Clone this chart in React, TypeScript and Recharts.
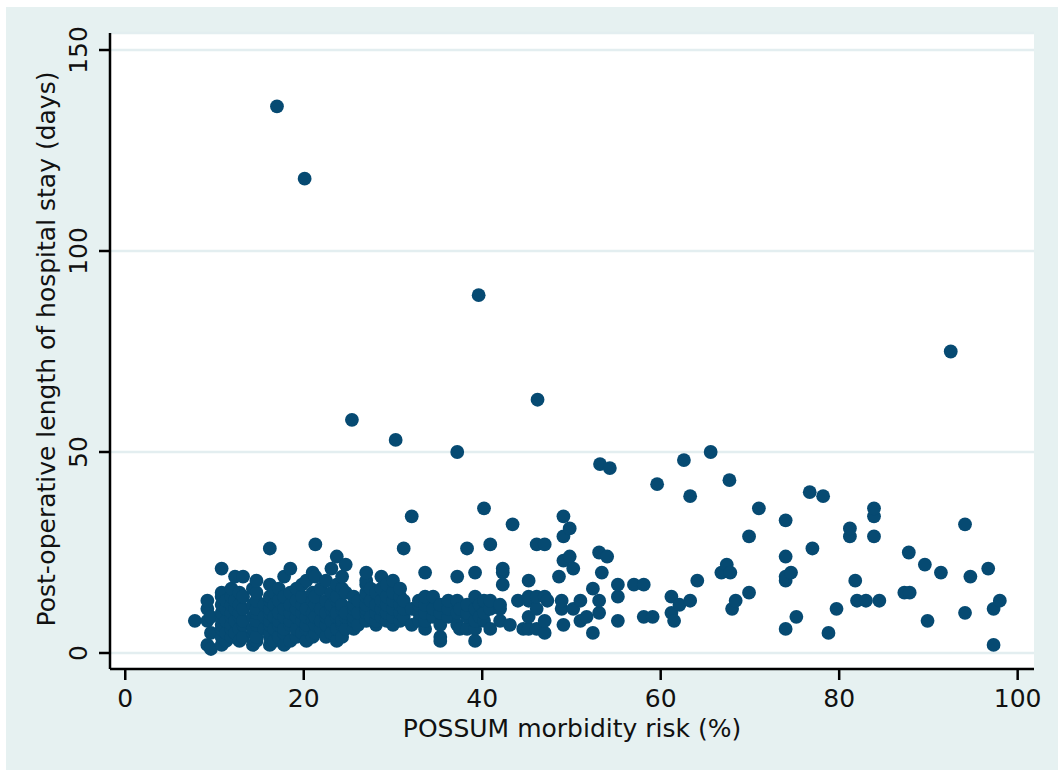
import { ScatterChart, Scatter, XAxis, YAxis, CartesianGrid } from 'recharts';

// Post-operative stay (days) against POSSUM morbidity risk (%), grouped by risk column
const lowRiskColumns: [number, number[]][] = [
    [7.8, [8]],
    [9.2, [2, 8, 11, 13]],
    [9.6, [1, 5, 9]],
    [10.8, [2, 4, 6, 7, 9, 10, 12, 14, 15, 21]],
    [11.3, [3, 5, 8, 11, 13]],
    [11.9, [4, 6, 7, 9, 10, 12, 14, 16]],
    [12.3, [5, 8, 11, 13, 19]],
    [12.8, [3, 6, 9, 10, 12, 15]],
    [13.2, [4, 7, 8, 11, 14, 19]],
    [14.3, [2, 5, 6, 9, 12, 16]],
    [14.7, [3, 4, 7, 8, 10, 11, 13, 15, 18]],
    [15.6, [6, 9, 12]],
    [16.2, [2, 4, 5, 7, 8, 10, 11, 13, 14, 17, 26]],
    [16.7, [3, 6, 9, 12, 15]],
    [17.2, [4, 7, 8, 10, 13, 16]],
    [17.8, [2, 5, 6, 9, 11, 14, 19]],
    [18.5, [3, 7, 8, 10, 12, 15, 21]],
    [19.2, [4, 6, 9, 11, 13, 16]],
    [19.8, [5, 8, 10, 12, 14, 17]],
];

const midLowRiskColumns: [number, number[]][] = [
    [20.3, [3, 6, 7, 9, 11, 18]],
    [21.0, [4, 8, 10, 13, 15, 20]],
    [21.3, [5, 7, 9, 12, 14, 19, 27]],
    [21.9, [6, 8, 11, 16]],
    [22.5, [4, 7, 9, 10, 13, 18]],
    [23.1, [5, 8, 11, 12, 15, 21]],
    [23.7, [3, 6, 9, 10, 13, 14, 17, 24]],
    [24.3, [4, 7, 8, 11, 12, 16, 19]],
    [24.7, [6, 9, 10, 15, 22]],
    [25.6, [6, 8, 9, 11, 12, 14]],
    [26.1, [7, 10, 13]],
    [27.0, [8, 10, 11, 12, 14, 15, 17, 18, 20]],
    [27.5, [9, 13, 16]],
    [28.1, [7, 8, 10, 12, 15]],
    [28.7, [9, 11, 13, 16, 19]],
    [29.3, [8, 10, 12, 14, 17]],
    [30.0, [7, 9, 11, 13, 15, 18]],
    [30.8, [8, 10, 12, 14, 16]],
    [31.2, [9, 11, 13, 26]],
    [32.1, [7, 11, 34]],
    [32.9, [8, 10, 12, 13]],
    [33.6, [6, 8, 10, 12, 14, 20]],
    [34.5, [9, 11, 14]],
];

const midRiskColumns: [number, number[]][] = [
    [35.3, [3, 4, 7, 10, 12]],
    [36.2, [9, 11, 13]],
    [37.2, [7, 10, 13, 19]],
    [37.5, [6, 11]],
    [38.3, [6, 9, 10, 12, 26]],
    [39.2, [3, 6, 8, 11, 14, 20]],
    [39.7, [9, 12]],
    [40.2, [8, 10, 13, 36]],
    [40.9, [6, 11, 13, 27]],
    [42.0, [8, 11, 12]],
    [42.3, [17, 20, 21]],
    [43.1, [7]],
    [43.4, [32]],
    [44.0, [13]],
    [44.6, [6]],
    [45.2, [6, 9, 13, 14, 18]],
    [46.1, [6, 11, 14, 27]],
    [47.0, [5, 8, 14, 27]],
    [47.3, [13]],
    [48.6, [19]],
    [48.9, [11, 13]],
    [49.1, [7, 23, 29, 34]],
    [49.8, [24, 31]],
    [50.2, [11, 21]],
    [51.0, [8, 13]],
    [51.7, [9]],
    [52.4, [5, 16]],
    [53.1, [10, 13, 25]],
    [53.4, [20]],
    [54.0, [24]],
    [55.2, [8, 14, 17]],
];

const highRiskColumns: [number, number[]][] = [
    [57.0, [17]],
    [58.1, [9, 17]],
    [59.1, [9]],
    [61.2, [10, 14]],
    [61.5, [8]],
    [62.1, [12]],
    [63.3, [13]],
    [64.1, [18]],
    [66.8, [20]],
    [67.4, [22]],
    [67.8, [20]],
    [68.0, [11]],
    [68.4, [13]],
    [69.9, [15, 29]],
    [71.0, [36]],
    [74.0, [6, 18, 19, 24, 33]],
    [74.6, [20]],
    [75.2, [9]],
    [76.7, [40]],
    [77.0, [26]],
    [78.2, [39]],
    [78.8, [5]],
    [79.7, [11]],
    [81.2, [29, 31]],
    [81.8, [18]],
    [82.0, [13]],
    [83.0, [13]],
    [83.9, [29, 34, 36]],
    [84.5, [13]],
    [87.3, [15]],
    [87.8, [25]],
    [87.9, [15]],
    [89.6, [22]],
    [89.9, [8]],
    [91.4, [20]],
    [94.1, [10, 32]],
    [94.7, [19]],
    [96.7, [21]],
    [97.3, [2, 11]],
    [98.0, [13]],
];

// long stays standing apart from the main cloud
const longStays: [number, number][] = [
    [17.0, 136], [20.1, 118], [39.6, 89], [25.4, 58], [30.3, 53],
    [37.2, 50], [46.2, 63], [53.2, 47], [54.3, 46], [62.6, 48],
    [65.6, 50], [59.6, 42], [63.3, 39], [67.7, 43], [92.5, 75],
];

const xTicks = [0, 20, 40, 60, 80, 100];
const yTicks = [0, 50, 100, 150];

const NAVY = '#064a72';
const BG = '#e6f1f1';
const GRID = '#e3eef0';
const FONT = '"DejaVu Sans", Verdana, sans-serif';

const points = [
    ...[...lowRiskColumns, ...midLowRiskColumns, ...midRiskColumns, ...highRiskColumns].flatMap(
        ([risk, stays]) => stays.map(days => ({ risk, days }))
    ),
    ...longStays.map(([risk, days]) => ({ risk, days })),
];

const XTick = (props: any) => (
    <text x={props.x} y={707} textAnchor="middle" fontFamily={FONT} fontSize={25} fill="#111">
        {props.payload.value}
    </text>
);

const YTick = (props: any) => (
    <text
        x={87}
        y={props.y}
        transform={`rotate(-90, 87, ${props.y})`}
        textAnchor="middle"
        fontFamily={FONT}
        fontSize={25}
        fill="#111"
    >
        {props.payload.value}
    </text>
);

const XTitle = (props: any) => {
    const vb = props.viewBox;
    const cx = vb.x + vb.width / 2;
    return (
        <text x={cx} y={737} textAnchor="middle" fontFamily={FONT} fontSize={25} fill="#111">
            POSSUM morbidity risk (%)
        </text>
    );
};

const YTitle = () => (
    <text
        x={55}
        y={349}
        transform="rotate(-90, 55, 349)"
        textAnchor="middle"
        fontFamily={FONT}
        fontSize={25}
        fill="#111"
    >
        Post-operative length of hospital stay (days)
    </text>
);

const Dot = (props: any) => <circle cx={props.cx} cy={props.cy} r={6.9} fill={NAVY} />;

export default function App() {
    return (
        <div style={{ position: 'absolute', left: 0, top: 0, width: 1058, height: 771, background: '#fff' }}>
            <div style={{ position: 'absolute', left: 6, top: 7, width: 1052, height: 763, background: BG }} />
            <div style={{ position: 'absolute', left: 0, top: 0 }}>
                <ScatterChart width={1058} height={771} margin={{ top: 33, right: 24, bottom: 0, left: 0 }}>
                    <CartesianGrid vertical={false} horizontal stroke={GRID} strokeWidth={2.5} fill="#fff" />
                    <XAxis
                        type="number"
                        dataKey="risk"
                        domain={[-1.71, 101.83]}
                        ticks={xTicks}
                        allowDataOverflow
                        height={102}
                        tickSize={11}
                        axisLine={{ stroke: '#000', strokeWidth: 2.5 }}
                        tickLine={{ stroke: '#000', strokeWidth: 2.5 }}
                        tick={<XTick />}
                        label={<XTitle />}
                    />
                    <YAxis
                        type="number"
                        dataKey="days"
                        domain={[-3.98, 154.23]}
                        ticks={yTicks}
                        allowDataOverflow
                        width={110}
                        tickSize={11}
                        axisLine={{ stroke: '#000', strokeWidth: 2.5 }}
                        tickLine={{ stroke: '#000', strokeWidth: 2.5 }}
                        tick={<YTick />}
                        label={<YTitle />}
                    />
                    <Scatter data={points} fill={NAVY} shape={<Dot />} isAnimationActive={false} />
                </ScatterChart>
            </div>
        </div>
    );
}
